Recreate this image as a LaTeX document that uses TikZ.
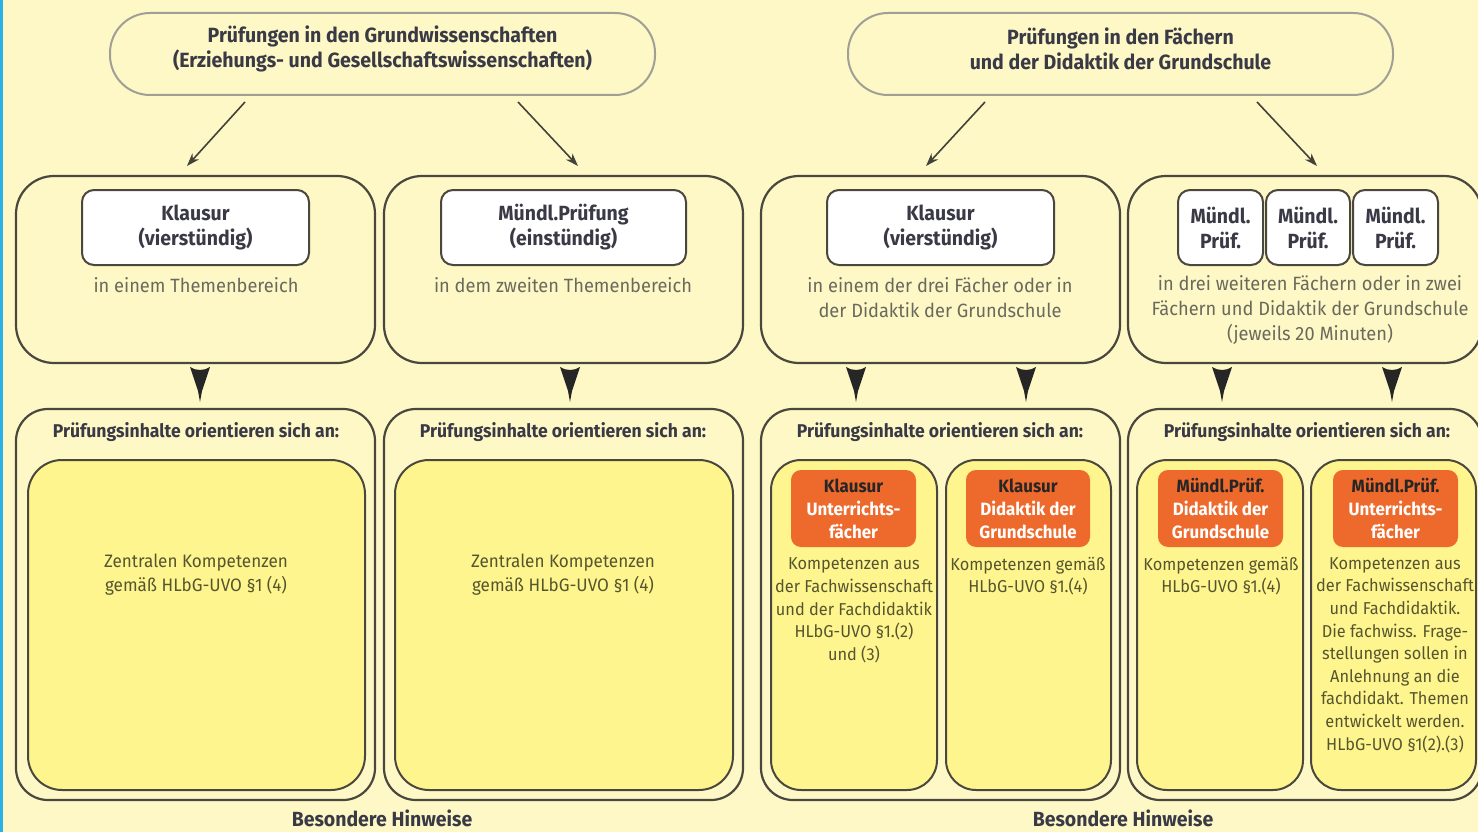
\documentclass[tikz,border=0pt]{standalone}
\usepackage{fontspec}
\setmainfont{Fira Sans}[FakeStretch=0.95]
\usetikzlibrary{arrows.meta}
\definecolor{bg}{HTML}{FEF8C6}
\definecolor{innery}{HTML}{FFF58E}
\definecolor{orng}{HTML}{EE6A2C}
\definecolor{ovalgray}{HTML}{A09F96}
\definecolor{dark}{HTML}{4A483E}
\definecolor{titletxt}{HTML}{3A3A46}
\definecolor{graytxt}{HTML}{6A6A5C}
\definecolor{olivetxt}{HTML}{55552F}
\definecolor{cyanedge}{HTML}{2AB0E4}
\begin{document}
\begin{tikzpicture}[x=1pt,y=-1pt,
  pill/.style={draw=ovalgray,line width=2pt,fill=bg,rounded corners=40pt,inner sep=0pt},
  stage/.style={draw=dark,line width=2.2pt,rounded corners=38pt,inner sep=0pt},
  outerbox/.style={draw=dark,line width=2.2pt,rounded corners=32pt,inner sep=0pt},
  innerbox/.style={draw=dark,line width=2pt,fill=innery,rounded corners=34pt,inner sep=0pt},
  smallinner/.style={draw=dark,line width=2pt,fill=innery,rounded corners=30pt,inner sep=0pt},
  whitebox/.style={draw=dark,line width=2pt,fill=white,rounded corners=12pt,inner sep=0pt,
    align=center,font=\fontsize{20.5}{25}\selectfont\bfseries,text=titletxt},
  orangebox/.style={fill=orng,rounded corners=10pt,inner sep=0pt,align=center,
    font=\fontsize{17.8}{23}\selectfont\bfseries,text=white},
  titletext/.style={inner sep=0pt,align=center,font=\fontsize{20.6}{25}\selectfont\bfseries,text=titletxt},
  graytext/.style={inner sep=0pt,align=center,font=\fontsize{19.2}{25}\selectfont,text=graytxt},
  headtext/.style={inner sep=0pt,align=center,font=\fontsize{18.5}{23}\selectfont\bfseries,text=titletxt},
  bodytext/.style={inner sep=0pt,align=center,font=\fontsize{17.2}{22.6}\selectfont,text=olivetxt},
  thinarrow/.style={draw=dark!90!black,line width=1.6pt,-{Stealth[length=13pt,width=9pt]}},
  bigtip/.pic={\fill[black!85] (-10,0) .. controls (-4,4) and (4,4) .. (10,0) -- (2,24) -- (0,35) -- (-2,24) -- cycle;}
]
\clip (0,0) rectangle (1478,832);
\fill[bg] (0,0) rectangle (1478,832);
\fill[cyanedge] (0,0) rectangle (2.5,832);

% top ovals
\node[pill,minimum width=545pt,minimum height=82pt] (top1) at (382.5,54) {};
\node[titletext] (top1t) at (382.5,49) {Prüfungen in den Grundwissenschaften\\(Erziehungs- und Gesellschaftswissenschaften)};
\node[pill,minimum width=545pt,minimum height=82pt] (top2) at (1120.5,54) {};
\node[titletext] (top2t) at (1120.5,49) {Prüfungen in den Fächern\\und der Didaktik der Grundschule};

% middle stage boxes
\node[stage,minimum width=359pt,minimum height=187pt] (mid1) at (195.5,269.5) {};
\node[stage,minimum width=359pt,minimum height=187pt] (mid2) at (563.5,269.5) {};
\node[stage,minimum width=359pt,minimum height=187pt] (mid3) at (940.5,269.5) {};
\node[stage,minimum width=354pt,minimum height=187pt] (mid4) at (1305,269.5) {};

\node[whitebox,minimum width=227pt,minimum height=75pt] (w1) at (195.5,227.5) {Klausur\\(vierstündig)};
\node[whitebox,minimum width=245pt,minimum height=75pt] (w2) at (563.5,227.5) {Mündl.Prüfung\\(einstündig)};
\node[whitebox,minimum width=227pt,minimum height=75pt] (w3) at (940.5,227.5) {Klausur\\(vierstündig)};
\node[whitebox,minimum width=85pt,minimum height=75pt] (w4a) at (1220.5,227.5) {Mündl.\\Prüf.};
\node[whitebox,minimum width=84pt,minimum height=75pt] (w4b) at (1308,227.5) {Mündl.\\Prüf.};
\node[whitebox,minimum width=85pt,minimum height=75pt] (w4c) at (1395.5,227.5) {Mündl.\\Prüf.};

\node[graytext] (g1) at (196,285) {in einem Themenbereich};
\node[graytext] (g2) at (563,285) {in dem zweiten Themenbereich};
\node[graytext] (g3) at (940,297.5) {in einem der drei Fächer oder in\\der Didaktik der Grundschule};
\node[graytext] (g4) at (1310,310) {in drei weiteren Fächern oder in zwei\\Fächern und Didaktik der Grundschule\\(jeweils 20 Minuten)};

% thin arrows
\coordinate (a1s) at (245,102); \coordinate (a1e) at (187,166);
\coordinate (a2s) at (518,102); \coordinate (a2e) at (578,166);
\coordinate (a3s) at (985,102); \coordinate (a3e) at (926,166);
\coordinate (a4s) at (1257,102); \coordinate (a4e) at (1317,166);
\draw[thinarrow] (a1s) -- (a1e);
\draw[thinarrow] (a2s) -- (a2e);
\draw[thinarrow] (a3s) -- (a3e);
\draw[thinarrow] (a4s) -- (a4e);

% big arrowheads
\pic at (200,367) {bigtip};
\pic at (570,367) {bigtip};
\pic at (856,367) {bigtip};
\pic at (1026,367) {bigtip};
\pic at (1222,367) {bigtip};
\pic at (1392,367) {bigtip};

% bottom boxes
\node[outerbox,minimum width=359pt,minimum height=391pt] (b1) at (195.5,604.5) {};
\node[outerbox,minimum width=359pt,minimum height=391pt] (b2) at (563.5,604.5) {};
\node[outerbox,minimum width=359pt,minimum height=391pt] (b3) at (940.5,604.5) {};
\node[outerbox,minimum width=354pt,minimum height=391pt] (b4) at (1305,604.5) {};

\node[headtext] (h1) at (196,432) {Prüfungsinhalte orientieren sich an:};
\node[headtext] (h2) at (563,432) {Prüfungsinhalte orientieren sich an:};
\node[headtext] (h3) at (940,432) {Prüfungsinhalte orientieren sich an:};
\node[headtext] (h4) at (1307,432) {Prüfungsinhalte orientieren sich an:};

\node[innerbox,minimum width=337pt,minimum height=330pt] (i1) at (196.5,625) {};
\node[innerbox,minimum width=338pt,minimum height=330pt] (i2) at (564,625) {};
\node[smallinner,minimum width=166pt,minimum height=330pt] (i3a) at (854,625) {};
\node[smallinner,minimum width=165pt,minimum height=330pt] (i3b) at (1028.5,625) {};
\node[smallinner,minimum width=166pt,minimum height=330pt] (i4a) at (1220,625) {};
\node[smallinner,minimum width=165pt,minimum height=330pt] (i4b) at (1393.5,625) {};

\node[bodytext,font=\fontsize{18}{24}\selectfont] (t1) at (196,575) {Zentralen Kompetenzen\\gemäß HLbG-UVO §1 (4)};
\node[bodytext,font=\fontsize{18}{24}\selectfont] (t2) at (563,575) {Zentralen Kompetenzen\\gemäß HLbG-UVO §1 (4)};

\node[orangebox,minimum width=125pt,minimum height=77pt] (o3a) at (853.5,508.5) {{\color{black!85}Klausur}\\Unterrichts-\\fächer};
\node[orangebox,minimum width=124pt,minimum height=77pt] (o3b) at (1028,508.5) {{\color{black!85}Klausur}\\Didaktik der\\Grundschule};
\node[orangebox,minimum width=125pt,minimum height=77pt] (o4a) at (1220.5,508.5) {{\color{black!85}Mündl.Prüf.}\\Didaktik der\\Grundschule};
\node[orangebox,minimum width=125pt,minimum height=77pt] (o4b) at (1395.5,508.5) {{\color{black!85}Mündl.Prüf.}\\Unterrichts-\\fächer};

\node[bodytext] (t3a) at (854,610.5) {Kompetenzen aus\\der Fachwissenschaft\\und der Fachdidaktik\\HLbG-UVO §1.(2)\\und (3)};
\node[bodytext] (t3b) at (1028,576) {Kompetenzen gemäß\\HLbG-UVO §1.(4)};
\node[bodytext] (t4a) at (1221,576) {Kompetenzen gemäß\\HLbG-UVO §1.(4)};
\node[bodytext] (t4b) at (1395,655) {Kompetenzen aus\\der Fachwissenschaft\\und Fachdidaktik.\\Die fachwiss. Frage-\\stellungen sollen in\\Anlehnung an die\\fachdidakt. Themen\\entwickelt werden.\\HLbG-UVO §1(2).(3)};

\node[headtext,font=\fontsize{20.5}{23}\selectfont\bfseries] (bh1) at (382,818) {Besondere Hinweise};
\node[headtext,font=\fontsize{20.5}{23}\selectfont\bfseries] (bh2) at (1123,818) {Besondere Hinweise};
\end{tikzpicture}
\end{document}
